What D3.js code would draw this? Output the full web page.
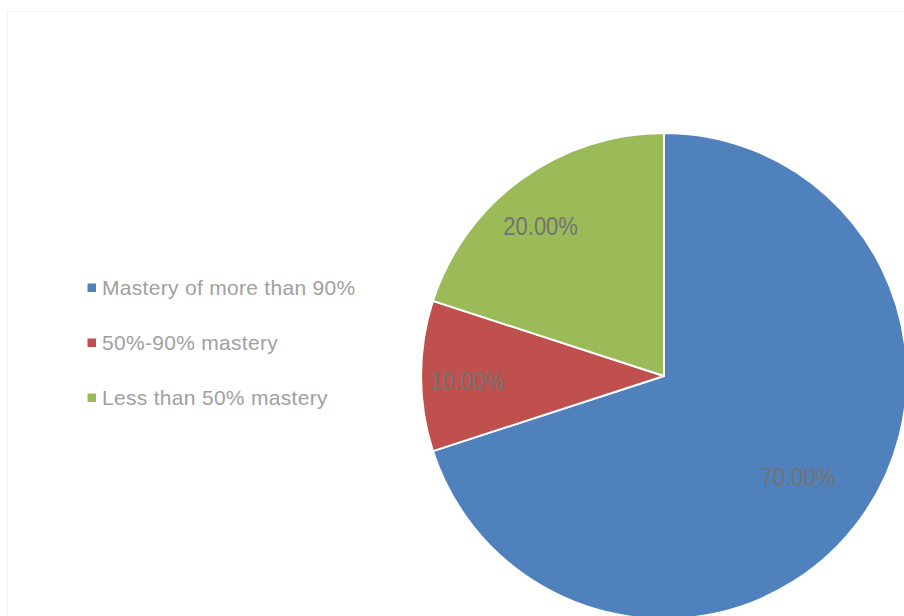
<!DOCTYPE html>
<html>
<head>
<meta charset="utf-8">
<script src="https://cdn.jsdelivr.net/npm/d3@7"></script>
<style>
  html, body { margin: 0; padding: 0; background: #ffffff; }
  svg { display: block; }
</style>
</head>
<body>
<svg id="chart" width="904" height="616"></svg>
<script>
// ---- data ----
const categories = ["Mastery of more than 90%", "50%-90% mastery", "Less than 50% mastery"];
const values = [70, 10, 20];
const valueLabels = ["70.00%", "10.00%", "20.00%"];
const colors = ["#4f81bd", "#c0504d", "#9bbb59"];

// ---- layout ----
const W = 904, H = 616;
const cx = 664, cy = 376, R = 243;
const labelRadiusFactor = [0.69, 0.81, 0.80];
const labelAngleOffsetDeg = [0.9, -1.3, -3.4];

const svg = d3.select("#chart");

// chart area border (extends beyond visible window)
svg.append("rect")
  .attr("x", 7.5).attr("y", 11.5)
  .attr("width", 1000).attr("height", 1000)
  .attr("fill", "#ffffff")
  .attr("stroke", "#f2f2f2")
  .attr("stroke-width", 1);

const pie = d3.pie().sort(null).value(d => d)(values);
const arc = d3.arc().innerRadius(0).outerRadius(R);

const g = svg.append("g").attr("transform", `translate(${cx},${cy})`);

g.selectAll("path.slice")
  .data(pie)
  .join("path")
  .attr("class", "slice")
  .attr("d", arc)
  .attr("fill", (d, i) => colors[i])
  .attr("stroke", "#ffffff")
  .attr("stroke-width", 2)
  .attr("stroke-linejoin", "round");

g.selectAll("text.lbl")
  .data(pie)
  .join("text")
  .attr("class", "lbl")
  .attr("transform", (d, i) => {
    const r = R * labelRadiusFactor[i];
    const a = (d.startAngle + d.endAngle) / 2 + labelAngleOffsetDeg[i] * Math.PI / 180;
    return `translate(${Math.sin(a) * r},${-Math.cos(a) * r}) scale(0.83,1)`;
  })
  .attr("text-anchor", "middle")
  .attr("dy", "0.35em")
  .attr("font-family", "'Liberation Sans', Arial, sans-serif")
  .attr("font-size", 26.5)
  .attr("fill", "#737373")
  .text((d, i) => valueLabels[i]);

// ---- legend ----
const legendY = d3.scalePoint().domain(categories).range([295, 405]);
const leg = svg.append("g");
const items = leg.selectAll("g.item").data(categories).join("g").attr("class", "item")
  .attr("transform", d => `translate(0,${legendY(d)})`);
items.append("rect")
  .attr("x", 87.5).attr("y", -11.5)
  .attr("width", 8.5).attr("height", 8.5)
  .attr("fill", (d, i) => colors[i]);
items.append("text")
  .attr("x", 102).attr("y", 0)
  .attr("font-family", "'Liberation Sans', Arial, sans-serif")
  .attr("font-size", 21)
  .attr("letter-spacing", 0.3)
  .attr("fill", "#a0a0a0")
  .text(d => d);
</script>
</body>
</html>
